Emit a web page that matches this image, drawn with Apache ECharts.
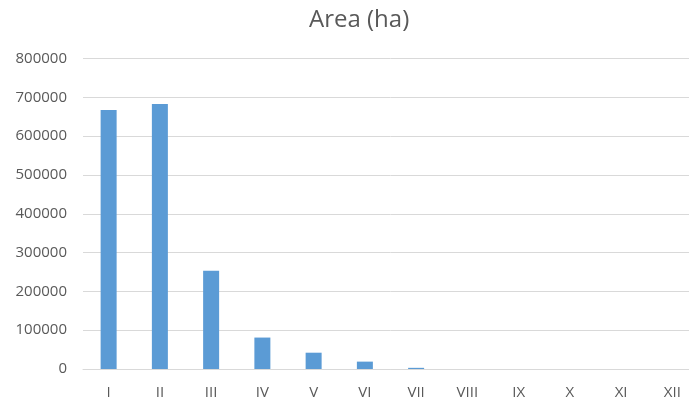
<!DOCTYPE html>
<html>
<head>
<meta charset="utf-8">
<script src="https://cdn.jsdelivr.net/npm/echarts@6/dist/echarts.min.js"></script>
<style>
  html, body { margin: 0; padding: 0; background: #ffffff; overflow: hidden; }
  /* plot area runs a little past the right edge of the window */
  #chart { width: 700px; height: 407px; }
</style>
</head>
<body>
<div id="chart"></div>
<script>
// Area per class, in hectares
const categories = ['I', 'II', 'III', 'IV', 'V', 'VI', 'VII', 'VIII', 'IX', 'X', 'XI', 'XII'];
const areaHa = [667000, 683000, 253000, 81000, 42000, 19000, 3000, 0, 0, 0, 0, 0];
const yTicks = { min: 0, max: 800000, interval: 100000 };

const chart = echarts.init(document.getElementById('chart'), null, { renderer: 'canvas' });
const textColor = '#595959';
const fontFamily = '"Open Sans", "Liberation Sans", sans-serif';

chart.setOption({
  animation: false,
  backgroundColor: '#ffffff',
  title: {
    text: 'Area (ha)',
    left: 304,
    top: 3,
    textStyle: { color: textColor, fontSize: 24, fontWeight: 'normal', fontFamily: fontFamily }
  },
  grid: { left: 83, top: 58.5, width: 615, height: 310.5, containLabel: false },
  xAxis: {
    type: 'category',
    data: categories,
    axisLine: { lineStyle: { color: '#d9d9d9', width: 1 } },
    axisTick: { show: false },
    axisLabel: { color: textColor, fontSize: 15, fontFamily: fontFamily, margin: 16 }
  },
  yAxis: {
    type: 'value',
    min: yTicks.min,
    max: yTicks.max,
    interval: yTicks.interval,
    axisLine: { show: false },
    axisTick: { show: false },
    axisLabel: {
      color: textColor, fontSize: 15, fontFamily: fontFamily, margin: 16,
      formatter: v => String(v)
    },
    splitLine: { lineStyle: { color: '#d9d9d9', width: 1 } }
  },
  series: [{
    type: 'bar',
    data: areaHa,
    barWidth: 16,
    itemStyle: { color: '#5b9bd5' }
  }]
});
</script>
</body>
</html>
